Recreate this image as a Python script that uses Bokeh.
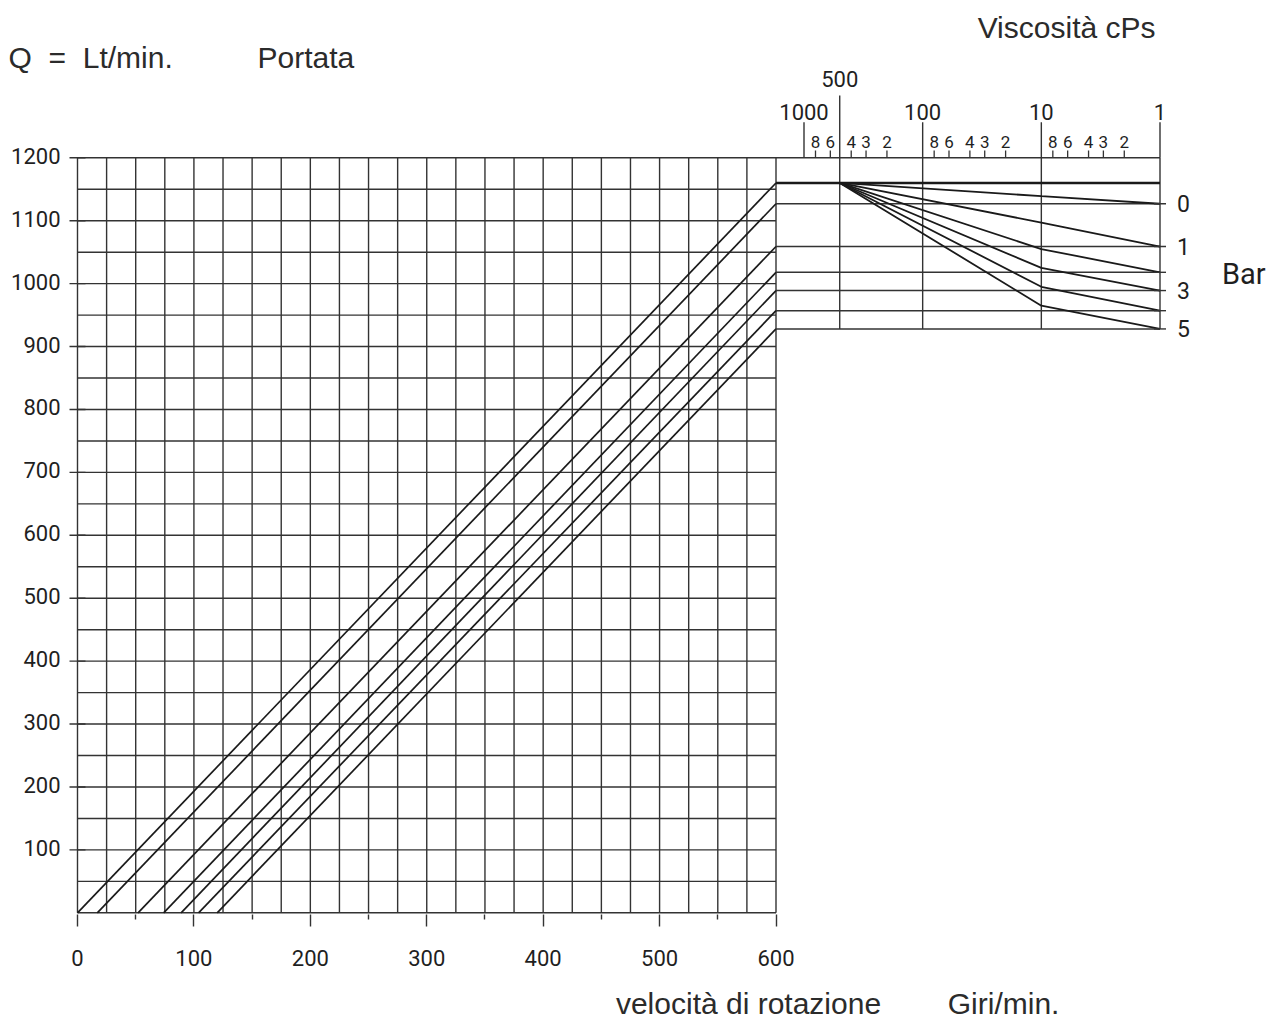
from bokeh.plotting import figure
from bokeh.models import Range1d, LogScale, FixedTicker, LinearAxis
from bokeh.core.properties import value
from bokeh.embed import file_html
from bokeh.resources import INLINE

# ---------------- data ----------------
RPM_TICKS = [0, 100, 200, 300, 400, 500, 600]
RPM_MINOR_TICKS = [50, 150, 250, 350, 450, 550]
Q_TICKS = [100, 200, 300, 400, 500, 600, 700, 800, 900, 1000, 1100, 1200]
RPM_GRID = [0, 25, 50, 75, 100, 125, 150, 175, 200, 225, 250, 275, 300,
            325, 350, 375, 400, 425, 450, 475, 500, 525, 550, 575, 600]
Q_GRID = [0, 50, 100, 150, 200, 250, 300, 350, 400, 450, 500, 550, 600,
          650, 700, 750, 800, 850, 900, 950, 1000, 1050, 1100, 1150, 1200]

# seven characteristic lines: theoretical + 0,1,2,3,4,5 bar
BAR_LABELS = ["", "0", "1", "", "3", "", "5"]
RPM_AT_ZERO_Q = [0, 17, 52, 74, 89, 104, 120]
Q_AT_600_RPM = [1160, 1127, 1059, 1018, 989, 957, 928]

# viscosity panel (cPs): lines leave the theoretical flow at 500 cPs,
# pass a knee at 10 cPs and end at 1 cPs
VISC_POINTS = [500, 10, 1]
Q_AT_10_CPS = [1160, 1139, 1097, 1055, 1025, 995, 965]

VISC_GRID = [500, 100, 10, 1]
VISC_MAJOR = [1000, 100, 10, 1]
VISC_MAJOR_LABELS = ["1000", "100", "10", "1"]
VISC_MID = [500]
VISC_MID_LABELS = ["500"]
VISC_MINOR = [800, 600, 400, 300, 200, 80, 60, 40, 30, 20, 8, 6, 4, 3, 2]
VISC_MINOR_LABELS = ["8", "6", "4", "3", "2"] * 3

TITLE_Q = "Q\u00a0\u00a0=\u00a0\u00a0Lt/min."
TITLE_PORTATA = "Portata"
TITLE_VISC = "Viscosità cPs"
TITLE_RPM = "velocità di rotazione" + "\u00a0" * 8 + "Giri/min."
TITLE_BAR = "Bar"

# ---------------- layout (pixels from the top-left of the picture) ----------------
X0_PX, X600_PX = 77.0, 775.5
Q0_PX, Q1200_PX = 912.3, 157.3
V1_PX, V1000_PX = 1159.5, 803.5
CANVAS_W, CANVAS_H = 1271, 1022
FL, FR, FT, FB = 0, CANVAS_W, 0, 914
RPM_TITLE_PX = 837.5

ppx = (X600_PX - X0_PX) / 600.0
ppq = (Q0_PX - Q1200_PX) / 1200.0
dec = (V1_PX - V1000_PX) / 3.0
VISC_EDGE = 10 ** ((V1_PX - X600_PX) / dec)
RPM_TITLE_POS = int(round((RPM_TITLE_PX - X0_PX) / ppx))


def q_len(px):
    return px / ppq


GRID_C = "#333333"
LINE_C = "#1a1a1a"
TEXT_C = "#1f1f1f"
WORD_C = "#2b2b2b"
NUM_FONT = "Roboto"
WORD_FONT = "Liberation Sans"

p = figure(width=CANVAS_W, height=CANVAS_H,
           x_range=Range1d((FL - X0_PX) / ppx, (FR - X0_PX) / ppx),
           y_range=Range1d((Q0_PX - FB) / ppq, (Q0_PX - FT) / ppq),
           min_border_left=0, min_border_right=0, min_border_top=0,
           min_border_bottom=CANVAS_H - FB, y_axis_location=None,
           output_backend="svg", toolbar_location=None)
p.extra_x_ranges = {"visc": Range1d(10 ** ((V1_PX - FL) / dec), 10 ** ((V1_PX - FR) / dec))}
p.extra_x_scales = {"visc": LogScale()}
p.xgrid.visible = False
p.ygrid.visible = False
p.outline_line_color = None

# bottom axis (speed)
xa = p.xaxis[0]
xa.ticker = FixedTicker(ticks=RPM_TICKS, minor_ticks=RPM_MINOR_TICKS)
xa.axis_line_color = None
xa.major_tick_out = 12
xa.major_tick_in = 0
xa.minor_tick_out = 5
xa.minor_tick_in = 0
xa.major_tick_line_color = GRID_C
xa.minor_tick_line_color = GRID_C
xa.major_tick_line_width = 1.4
xa.minor_tick_line_width = 1.4
xa.major_label_standoff = 23
xa.major_label_text_font = NUM_FONT
xa.major_label_text_font_size = "22px"
xa.major_label_text_color = TEXT_C

# second below-axis carrying the speed title
ta = LinearAxis(ticker=FixedTicker(ticks=[RPM_TITLE_POS]),
                major_label_overrides={RPM_TITLE_POS: TITLE_RPM})
ta.axis_line_color = None
ta.major_tick_line_color = None
ta.minor_tick_line_color = None
ta.major_tick_out = 0
ta.major_tick_in = 0
ta.major_label_standoff = 18
ta.major_label_text_font = WORD_FONT
ta.major_label_text_font_size = "30px"
ta.major_label_text_color = WORD_C
p.add_layout(ta, "below")

# Q scale on the left
p.scatter(x=RPM_GRID[0], y=Q_TICKS, marker="dash", size=16, line_color=GRID_C, line_width=1.4)
p.text(x=RPM_GRID[0], y=Q_TICKS, text=[str(q) for q in Q_TICKS], x_offset=-17, y_offset=-2,
       text_align="right", text_baseline="middle", text_font=value(NUM_FONT),
       text_font_size="22px", text_color=TEXT_C)

# titles
p.text(x=[RPM_GRID[0]], y=[Q_GRID[-1]], text=[TITLE_Q], x_offset=-69, y_offset=-100,
       text_align="left", text_baseline="middle", text_font=value(WORD_FONT),
       text_font_size="30px", text_color=WORD_C)
p.text(x=[RPM_GRID[0]], y=[Q_GRID[-1]], text=[TITLE_PORTATA], x_offset=180, y_offset=-100,
       text_align="left", text_baseline="middle", text_font=value(WORD_FONT),
       text_font_size="30px", text_color=WORD_C)

# left panel grid
p.segment(x0=RPM_GRID, y0=Q_GRID[0], x1=RPM_GRID, y1=Q_GRID[-1], line_color=GRID_C, line_width=1.4)
p.segment(x0=RPM_GRID[0], y0=Q_GRID, x1=RPM_GRID[-1], y1=Q_GRID, line_color=GRID_C, line_width=1.4)

# flow lines vs speed
p.segment(x0=RPM_AT_ZERO_Q, y0=0, x1=RPM_GRID[-1], y1=Q_AT_600_RPM, line_color=LINE_C, line_width=1.7)

# viscosity panel
V = dict(x_range_name="visc")
p.segment(x0=VISC_EDGE, y0=Q_GRID[-1], x1=VISC_GRID[-1], y1=Q_GRID[-1], line_color=GRID_C, line_width=1.4, **V)
p.segment(x0=VISC_GRID, y0=min(Q_AT_600_RPM), x1=VISC_GRID, y1=Q_GRID[-1], line_color=GRID_C, line_width=1.4, **V)
p.segment(x0=VISC_EDGE, y0=Q_AT_600_RPM[1:], x1=VISC_GRID[-1], y1=Q_AT_600_RPM[1:], line_color=GRID_C, line_width=1.4, **V)
p.segment(x0=VISC_EDGE, y0=Q_AT_600_RPM[0], x1=VISC_GRID[-1], y1=Q_AT_600_RPM[0], line_color=LINE_C, line_width=2.6, **V)
p.multi_line(xs=[VISC_POINTS] * (len(Q_AT_600_RPM) - 1),
             ys=[[Q_AT_600_RPM[0], Q_AT_10_CPS[i], Q_AT_600_RPM[i]] for i in range(1, len(Q_AT_600_RPM))],
             line_color=LINE_C, line_width=1.8, **V)
p.scatter(x=VISC_GRID[-1], y=Q_AT_600_RPM[1:], marker="dash", size=12, line_color=GRID_C, line_width=1.4, **V)

# viscosity scale on top of the panel
p.segment(x0=VISC_MINOR, y0=Q_GRID[-1], x1=VISC_MINOR, y1=Q_GRID[-1] + q_len(7.3), line_color=GRID_C, line_width=1.3, **V)
p.segment(x0=VISC_MAJOR, y0=Q_GRID[-1], x1=VISC_MAJOR, y1=Q_GRID[-1] + q_len(35.6), line_color=GRID_C, line_width=1.4, **V)
p.segment(x0=VISC_MID, y0=Q_GRID[-1], x1=VISC_MID, y1=Q_GRID[-1] + q_len(62.3), line_color=GRID_C, line_width=1.4, **V)
p.text(x=VISC_MINOR, y=Q_GRID[-1], text=VISC_MINOR_LABELS, y_offset=-16, text_align="center",
       text_baseline="middle", text_font=value(NUM_FONT), text_font_size="17px", text_color=TEXT_C, **V)
p.text(x=VISC_MAJOR, y=Q_GRID[-1], text=VISC_MAJOR_LABELS, y_offset=-46, text_align="center",
       text_baseline="middle", text_font=value(NUM_FONT), text_font_size="22px", text_color=TEXT_C, **V)
p.text(x=VISC_MID, y=Q_GRID[-1], text=VISC_MID_LABELS, y_offset=-79, text_align="center",
       text_baseline="middle", text_font=value(NUM_FONT), text_font_size="22px", text_color=TEXT_C, **V)
p.text(x=[VISC_GRID[-1]], y=[Q_GRID[-1]], text=[TITLE_VISC], x_offset=-4.5, y_offset=-130,
       text_align="right", text_baseline="middle", text_font=value(WORD_FONT),
       text_font_size="30px", text_color=WORD_C, **V)

# bar labels
lab_q = [q for q, b in zip(Q_AT_600_RPM, BAR_LABELS) if b]
lab_t = [b for b in BAR_LABELS if b]
p.text(x=VISC_GRID[-1], y=lab_q, text=lab_t, x_offset=17, text_align="left", text_baseline="middle",
       text_font=value(NUM_FONT), text_font_size="23px", text_color=TEXT_C, **V)
p.text(x=[VISC_GRID[-1]], y=[Q_AT_600_RPM[3]], text=[TITLE_BAR], x_offset=62, y_offset=2, text_align="left",
       text_baseline="middle", text_font=value(NUM_FONT), text_font_size="29px", text_color=TEXT_C, **V)

open("out.html", "w").write(file_html(p, INLINE))
